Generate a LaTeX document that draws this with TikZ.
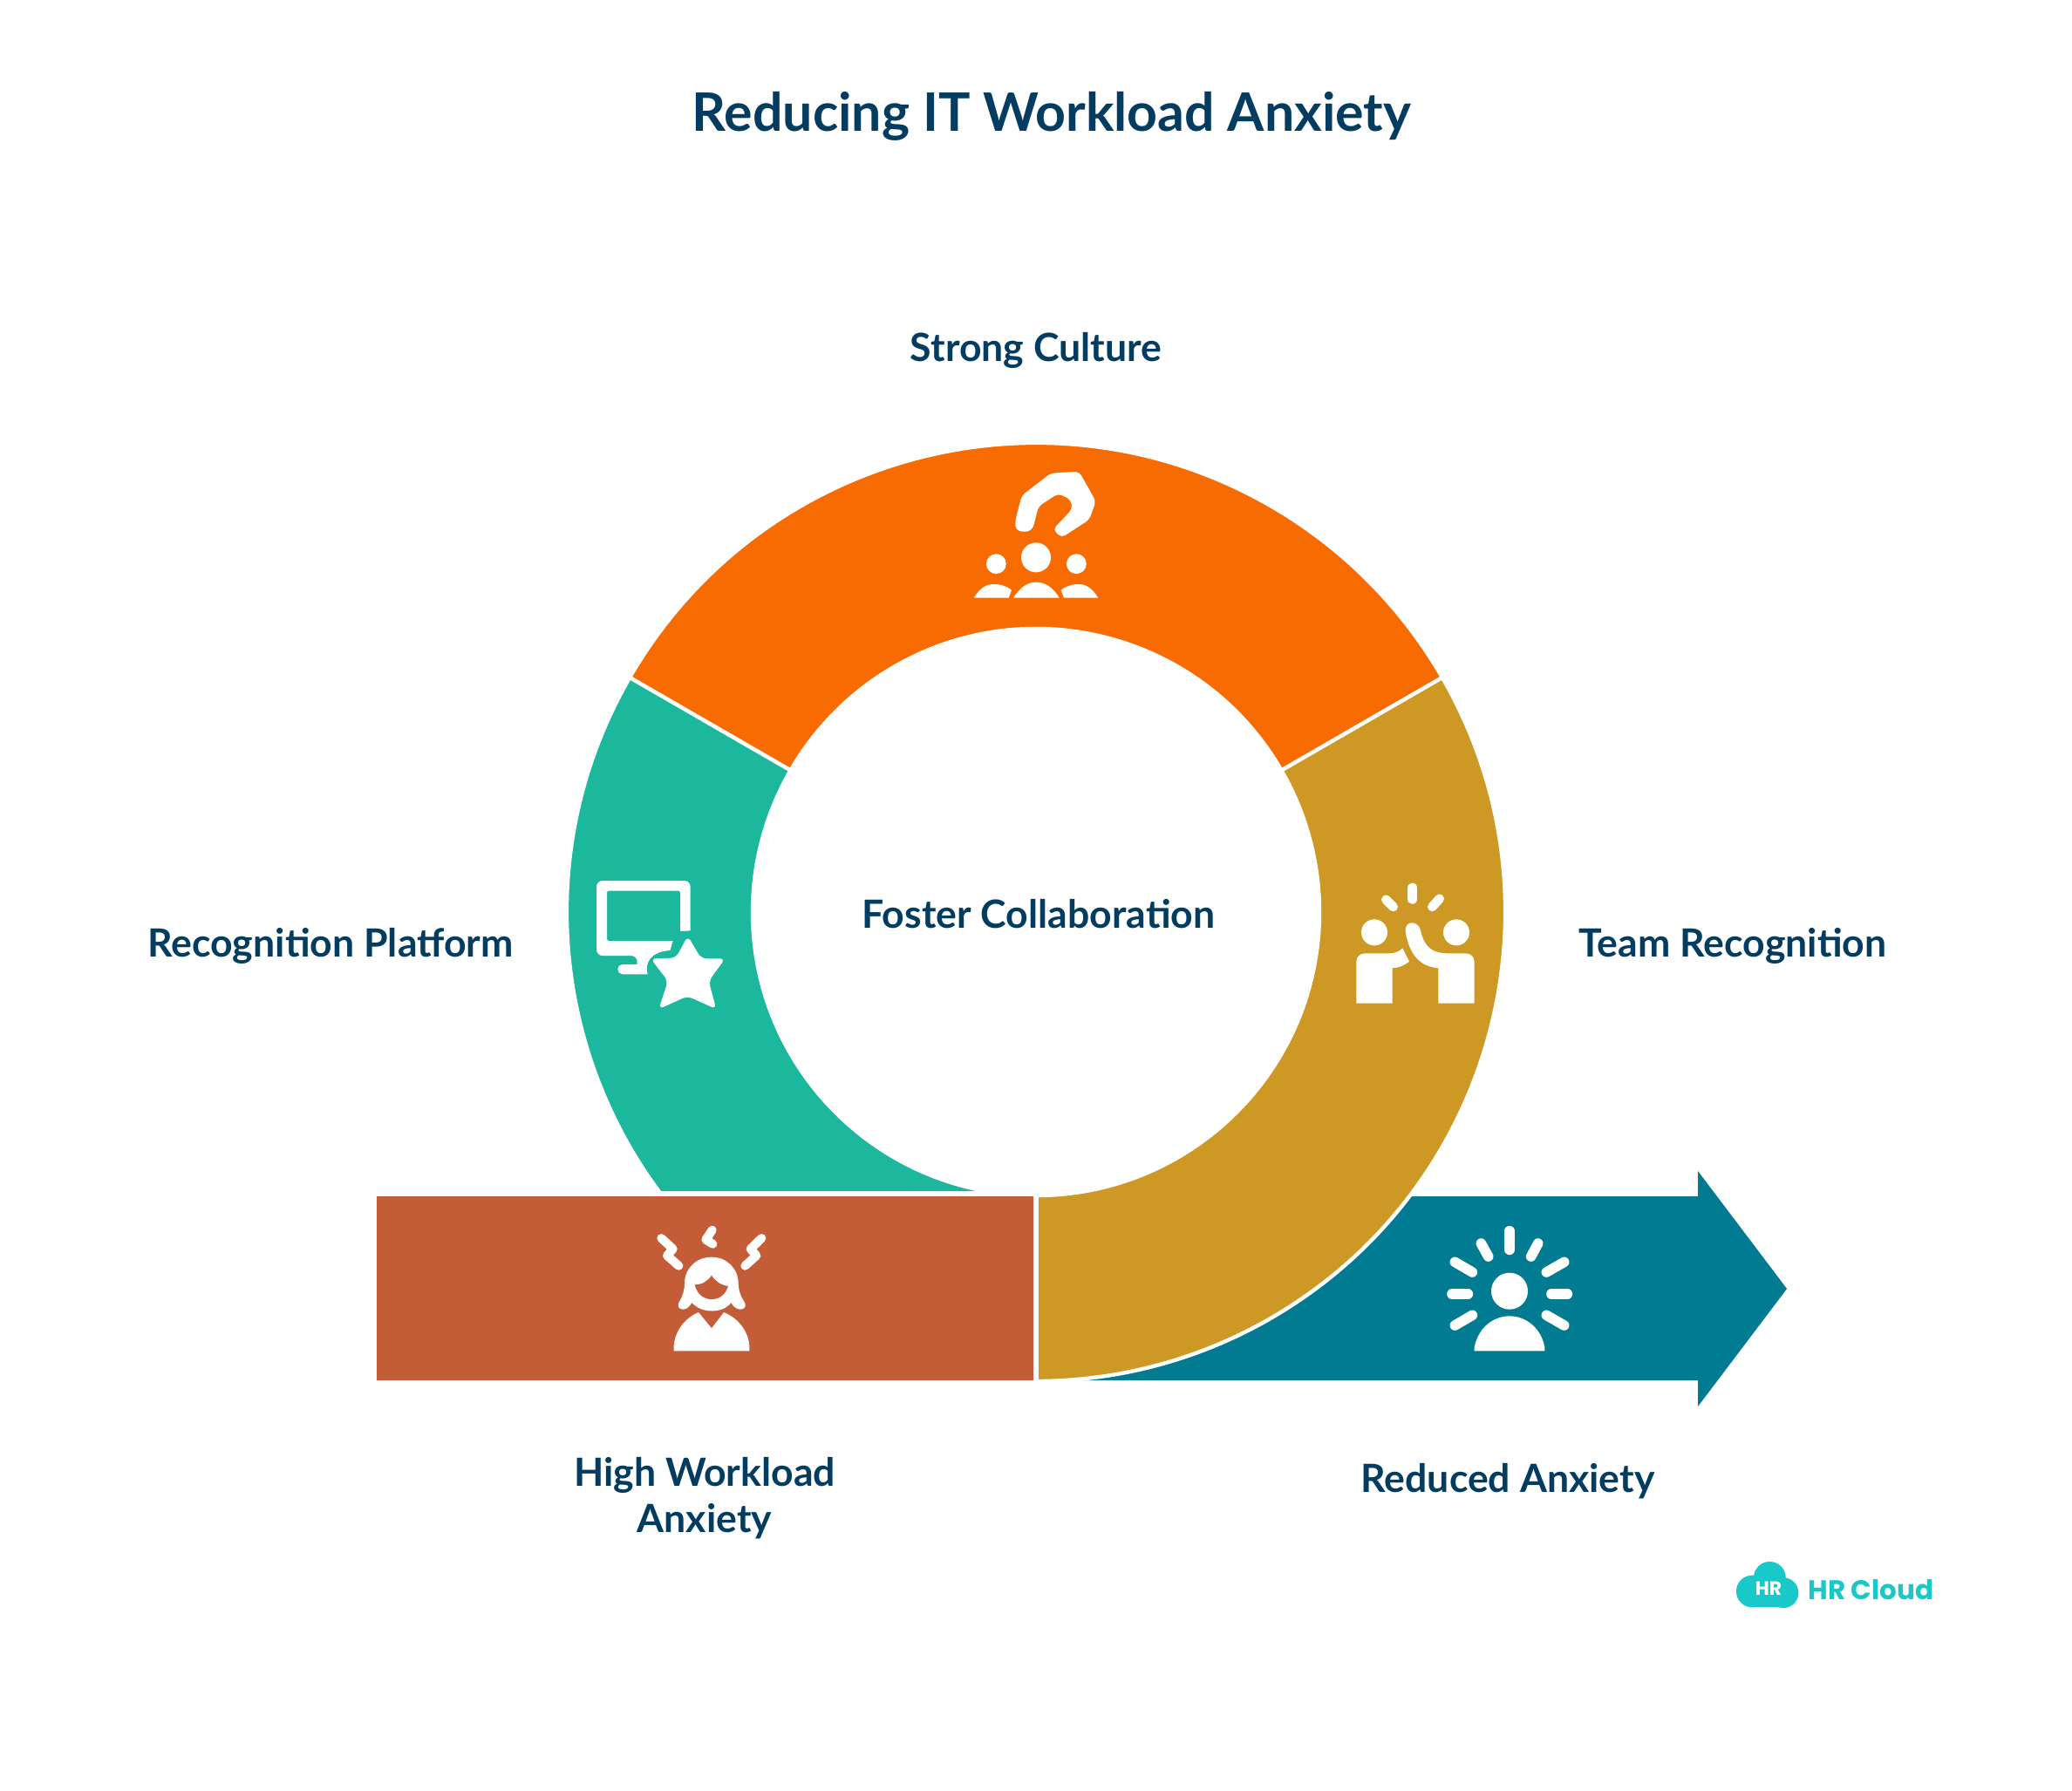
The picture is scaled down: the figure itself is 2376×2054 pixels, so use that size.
\documentclass[tikz,border=0pt]{standalone}
\usepackage{fontspec}
\setmainfont{Lato}
\newfontfamily\logofont{Poppins}
\definecolor{txt}{HTML}{023D61}
\definecolor{segorange}{HTML}{F76B00}
\definecolor{segteal}{HTML}{1CB89E}
\definecolor{seggold}{HTML}{CE9825}
\definecolor{segred}{HTML}{C45C38}
\definecolor{segblue}{HTML}{007B91}
\definecolor{logoc}{HTML}{19C8C8}
\tikzset{
  seg/.style={draw=white,line width=2.2pt,line join=miter},
  lab/.style={text=txt,font=\fontsize{22.3}{26.5}\selectfont\bfseries,align=center,inner sep=0pt},
  icon/.style={shift={#1},x=0.16667pt,y=-0.16667pt,fill=white,draw=none},
  ray/.style={draw=white,line cap=round,line join=round,line width=#1},
  ray/.default=5.5pt,
}
\begin{document}
\begin{tikzpicture}[x=0.5pt,y=-0.5pt]
\useasboundingbox (0,0) rectangle (2376,2054);
\fill[white] (0,0) rectangle (2376,2054);
\node[lab,font=\fontsize{30.4}{34}\selectfont\bfseries] (title) at (1206,133) {Reducing IT Workload Anxiety};
% ring
\begin{scope}[shift={(1188,1046)}]
  \path[seg,fill=segorange] (150:269pt) arc[start angle=150,end angle=30,radius=269pt] -- (30:162.5pt) arc[start angle=30,end angle=150,radius=162.5pt] -- cycle;
  \path[seg,fill=segteal] (150:269pt) arc[start angle=150,end angle=270,radius=269pt] -- (270:162.5pt) arc[start angle=270,end angle=150,radius=162.5pt] -- cycle;
\end{scope}
% arrow
\fill[segblue] (1180,1372) -- (1947,1372) -- (1947,1343) -- (2049,1478) -- (1947,1613) -- (1947,1583) -- (1180,1583) -- cycle;
\begin{scope}[shift={(1188,1046)}]
  \path[seg,fill=seggold] (30:269pt) arc[start angle=30,end angle=-90,radius=269pt] -- (-90:162.5pt) arc[start angle=-90,end angle=30,radius=162.5pt] -- cycle;
\end{scope}
\path[draw=white,line width=3pt,fill=segred] (429,1369) rectangle (1188,1586);
% strong culture icon
\begin{scope}[icon={(1080,520)}]
  \fill[white,rounded corners=2.5pt] (285,272) -- (252,262) -- (254,225) -- (275,145) -- (375,68) -- (472,62) -- (530,165) -- (507,228) -- (412,290) -- (382,262) -- (450,190) -- (442,158) -- (400,138) -- (333,182) -- (312,262) -- cycle;
  \fill[white] (324,358) circle[radius=8.5pt];
  \fill[white] (187,380) circle[radius=5.7pt];
  \fill[white] (463,380) circle[radius=5.7pt];
  \fill[white] (246,497) .. controls (270,460) and (295,443) .. (324,443) .. controls (355,443) and (382,460) .. (404,497) -- cycle;
  \fill[white] (110,497) .. controls (130,465) and (150,450) .. (178,450) .. controls (205,450) and (225,458) .. (240,470) -- (230,497) -- cycle;
  \fill[white] (538,497) .. controls (518,465) and (498,450) .. (470,450) .. controls (445,450) and (425,458) .. (410,470) -- (420,497) -- cycle;
\end{scope}
% monitor icon
\begin{scope}[icon={(660,990)}]
  \fill[white,rounded corners=3.5pt] (395,232) -- (395,60) -- (72,60) -- (72,318) -- (212,318) [rounded corners=0.3pt] -- (212,348) -- (160,348) [rounded corners=2.8pt] -- (145,348) -- (145,382) -- (180,382) [sharp corners] -- (248,382) .. controls (238,345) and (255,304) .. (325,300) -- (335,267) [rounded corners=1pt] -- (108,267) -- (108,95) -- (360,95) [sharp corners] -- (360,234) -- cycle;
  \fill[white,rounded corners=3.2pt] (386,250) -- (432,328) -- (515,328) -- (458,405) -- (484,502) -- (385,457) -- (286,502) -- (318,405) -- (258,328) -- (345,326) -- cycle;
\end{scope}
% high five icon
\begin{scope}[icon={(1530,1000)}]
  \fill[white] (138,208) circle[radius=7.5pt];
  \fill[white] (420,208) circle[radius=7.5pt];
  \fill[white] (76,452) -- (76,310) .. controls (76,290) and (90,280) .. (108,280) -- (190,280) .. controls (210,280) and (225,272) .. (235,262) -- (258,308) .. controls (240,322) and (222,330) .. (200,331) -- (200,452) -- cycle;
  \fill[white] (482,452) -- (482,310) .. controls (482,290) and (468,280) .. (450,280) -- (390,280) .. controls (340,280) and (310,260) .. (298,205) .. controls (292,165) and (240,165) .. (245,205) .. controls (258,285) and (295,325) .. (358,331) -- (358,452) -- cycle;
  \draw[ray=5.8pt] (269,55) -- (269,93);
  \draw[ray=5.3pt] (178,95) -- (203,120);
  \draw[ray=5.3pt] (362,92) -- (337,120);
\end{scope}
% stressed icon
\begin{scope}[icon={(730,1390)}]
  \fill[white] (258,155) .. controls (205,155) and (165,195) .. (165,245) .. controls (165,270) and (158,290) .. (147,308) .. controls (130,335) and (170,350) .. (190,312) .. controls (225,350) and (295,350) .. (325,312) .. controls (345,350) and (388,335) .. (370,308) .. controls (358,290) and (350,270) .. (350,245) .. controls (350,195) and (310,155) .. (258,155) -- cycle;
  \fill[segred] (200,250) .. controls (225,250) and (245,238) .. (258,218) .. controls (270,238) and (290,252) .. (315,255) .. controls (305,285) and (285,300) .. (258,300) .. controls (230,300) and (208,282) .. (200,250) -- cycle;
  \fill[white] (128,478) -- (128,460) .. controls (132,410) and (165,365) .. (213,345) -- (258,400) -- (300,345) .. controls (350,365) and (384,410) .. (388,460) -- (388,478) -- cycle;
  \draw[ray=5pt] (85,90) -- (125,127) -- (105,150) -- (145,185);
  \draw[ray=5pt] (430,90) -- (392,127) -- (412,150) -- (373,185);
  \draw[ray=5pt] (260,62) -- (238,95) -- (262,110);
\end{scope}
% reduced icon
\begin{scope}[icon={(1640,1390)}]
  \fill[white] (273,272) circle[radius=10.5pt];
  \fill[white] (152,478) -- (152,465) .. controls (165,400) and (215,358) .. (273,358) .. controls (330,358) and (382,400) .. (394,465) -- (394,478) -- cycle;
  \draw[ray=5.8pt] (273,65) -- (273,130);
  \draw[ray=5.8pt] (175,108) -- (200,153);
  \draw[ray=5.8pt] (371,108) -- (347,153);
  \draw[ray=5.8pt] (85,172) -- (145,207);
  \draw[ray=5.8pt] (461,172) -- (400,207);
  \draw[ray=5.8pt] (75,282) -- (130,282);
  \draw[ray=5.8pt] (417,282) -- (472,282);
  \draw[ray=5.8pt] (85,390) -- (145,355);
  \draw[ray=5.8pt] (461,390) -- (400,355);
\end{scope}
% labels
\node[lab] (strong) at (1188,402) {Strong Culture};
\node[lab] (platform) at (379,1085) {Recognition Platform};
\node[lab] (team) at (1987,1085) {Team Recognition};
\node[lab] (foster) at (1191,1048) {Foster Collaboration};
\node[lab] (high) at (808,1718) {High Workload\\Anxiety};
\node[lab] (reduced) at (1729,1699) {Reduced Anxiety};
% logo
\begin{scope}[icon={(1980,1780)}]
  \fill[logoc] (148,88) circle[radius=9.2pt];
  \fill[logoc] (88,135) circle[radius=9.2pt];
  \fill[logoc] (195,140) circle[radius=8.7pt];
  \fill[logoc] (88,120) rectangle (195,190);
\end{scope}
\node[text=white,inner sep=0pt,font=\logofont\fontsize{11}{12}\selectfont\bfseries] (logoa) at (2028,1822) {HR};
\node[text=logoc,inner sep=0pt,anchor=west,font=\logofont\fontsize{15.5}{17}\selectfont\bfseries] (logob) at (2073,1823) {HR Cloud};
\end{tikzpicture}
\end{document}
